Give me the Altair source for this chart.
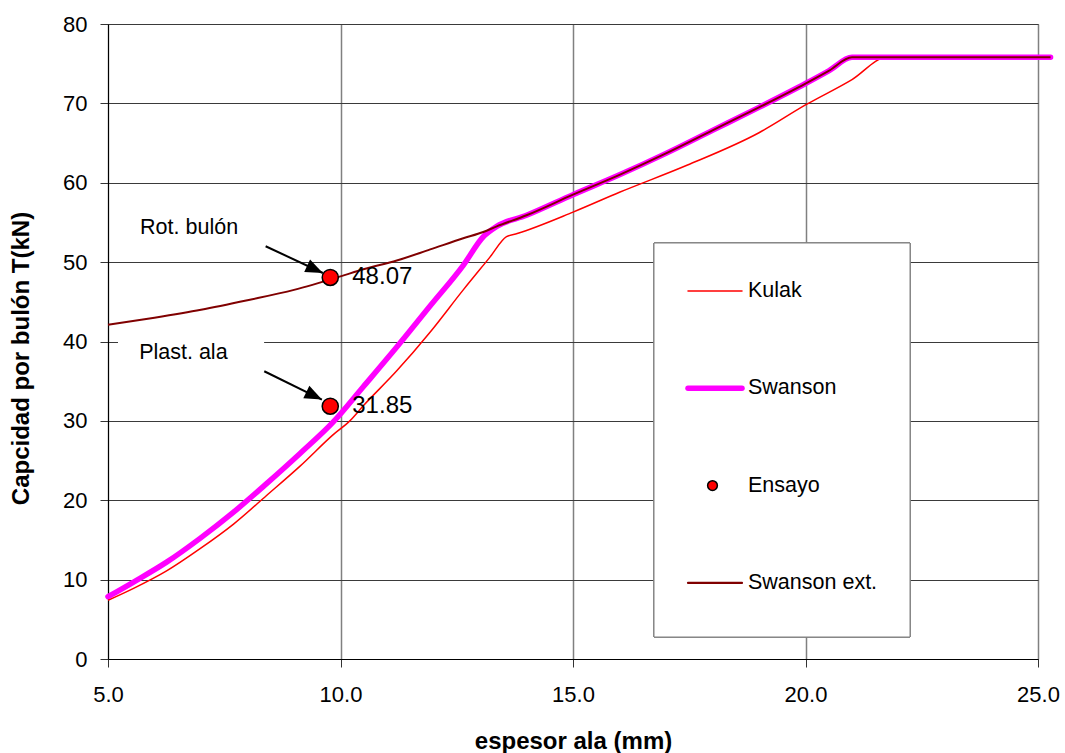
import altair as alt
import pandas as pd

# ---------------- data ----------------
kulak_x = [5.0, 5.55, 6.26, 6.98, 7.70, 8.41, 9.13, 9.85, 10.2, 10.49, 11.21, 11.93, 12.64,
           13.21, 13.57, 13.8, 15.0, 16.0, 17.45, 19.0, 20.0, 21.0, 21.75, 25.27]
kulak_y = [7.4, 8.9, 11.1, 13.9, 17.0, 20.6, 24.3, 28.3, 30.0, 31.9, 36.3, 41.2, 46.5,
           50.6, 53.2, 53.6, 56.3, 58.8, 62.2, 66.3, 69.8, 73.0, 75.8, 75.8]

swanson_x = [5.0, 5.55, 6.26, 6.98, 7.70, 8.41, 9.13, 9.85, 10.49, 11.21, 11.93, 12.64,
             13.07, 13.36, 14.0, 15.0, 16.0, 17.0, 18.0, 19.0, 20.0, 20.5, 21.0, 25.27]
swanson_y = [7.85, 9.7, 12.2, 15.2, 18.5, 22.1, 25.9, 29.9, 34.3, 39.3, 44.5, 49.6,
             53.2, 54.5, 55.9, 58.5, 61.0, 63.7, 66.6, 69.5, 72.5, 74.1, 75.8, 75.8]

ext_x = [5.0, 6.0, 7.0, 8.0, 9.0, 10.0, 10.49, 11.21, 11.93, 12.64, 13.07, 13.36,
         14.0, 15.0, 16.0, 17.0, 18.0, 19.0, 20.0, 20.5, 21.0, 25.27]
ext_y = [42.1, 43.0, 44.0, 45.2, 46.5, 48.2, 49.1, 50.2, 51.6, 53.0, 53.8, 54.5,
         55.9, 58.5, 61.0, 63.7, 66.6, 69.5, 72.5, 74.1, 75.8, 75.8]

ensayo_x = [9.78, 9.78]
ensayo_y = [48.07, 31.85]
ensayo_lbl = ["48.07", "31.85"]

note_text = ["Rot. bulón", "Plast. ala"]
note_x = [5.69, 5.67]
note_y = [53.6, 37.85]

arrow_x1 = [8.39, 8.36]
arrow_y1 = [52.0, 36.25]
arrow_x2 = [9.62, 9.60]
arrow_y2 = [48.63, 32.69]
arrow_ang = [25, 26]

box_x = [5.215]
box_x2 = [8.357]
box_y = [36.1]
box_y2 = [41.4]

legend_names = ["Kulak", "Swanson", "Ensayo", "Swanson ext."]
legend_cols = ["#FF0000", "#FF00FF", "#FF0000", "#800000"]
legend_w = [1.5, 5.5, 0, 2.2]

x_ticks = [5, 10, 15, 20, 25]
y_ticks = [0, 10, 20, 30, 40, 50, 60, 70, 80]

FONT = "Liberation Sans"

kulak = pd.DataFrame({"x": kulak_x, "y": kulak_y})
swanson = pd.DataFrame({"x": swanson_x, "y": swanson_y})
ext = pd.DataFrame({"x": ext_x, "y": ext_y})
ens = pd.DataFrame({"x": ensayo_x, "y": ensayo_y, "lbl": ensayo_lbl})
notes = pd.DataFrame({"x": note_x, "y": note_y, "t": note_text})
arrows = pd.DataFrame({"x": arrow_x1, "y": arrow_y1, "x2": arrow_x2, "y2": arrow_y2, "a": arrow_ang})
box = pd.DataFrame({"x": box_x, "x2": box_x2, "y": box_y, "y2": box_y2})
leg = pd.DataFrame({"name": legend_names, "c": legend_cols, "w": legend_w,
                    "i": list(range(len(legend_names)))})

xs = alt.Scale(domain=[5, 25], nice=False, zero=False)
ys = alt.Scale(domain=[0, 80], nice=False, zero=False)

x_axis = alt.Axis(
    values=x_ticks, format=".1f", title="espesor ala (mm)", labelFlush=False,
    titleFontSize=24, titleFontWeight="bold", titleY=89, titleBaseline="alphabetic",
    labelFontSize=22, labelPadding=17, tickSize=8, gridColor="#808080", gridWidth=1.5,
    domainColor="#000000", tickColor="#333333")
y_axis = alt.Axis(
    values=y_ticks, format="d", title="Capcidad por bulón T(kN)", labelFlush=False,
    titleFontSize=24, titleFontWeight="bold", titleX=-80, titleY=334,
    titleBaseline="alphabetic", titleAngle=270, titleAlign="center",
    labelFontSize=22, labelPadding=13, tickSize=8, gridColor="#3a3a3a", gridWidth=1.2,
    domainColor="#000000", tickColor="#333333")


def X(field="x"):
    return alt.X(f"{field}:Q", scale=xs, axis=x_axis)


def Y(field="y"):
    return alt.Y(f"{field}:Q", scale=ys, axis=y_axis)


l_kulak = alt.Chart(kulak).mark_line(color="#FF0000", strokeWidth=1.5,
                                     interpolate="monotone").encode(x=X(), y=Y())
l_swan = alt.Chart(swanson).mark_line(color="#FF00FF", strokeWidth=5.5, strokeCap="round",
                                      strokeJoin="round", interpolate="monotone").encode(x=X(), y=Y())
l_ext = alt.Chart(ext).mark_line(color="#800000", strokeWidth=2,
                                 interpolate="monotone").encode(x=X(), y=Y())

pts = alt.Chart(ens).mark_circle(color="#FF0000", stroke="black", strokeWidth=1.5,
                                  opacity=1, size=260).encode(x=X(), y=Y())
pts_lbl = alt.Chart(ens).mark_text(align="left", baseline="middle", dx=22, fontSize=24,
                                    font=FONT, color="black").encode(x=X(), y=Y(), text="lbl:N")

wbox = alt.Chart(box).mark_rect(fill="white").encode(
    x=X(), x2="x2:Q", y=Y(), y2="y2:Q")
note = alt.Chart(notes).mark_text(align="left", baseline="alphabetic", fontSize=21.5,
                                  font=FONT, color="black").encode(x=X(), y=Y(), text="t:N")
arr_line = alt.Chart(arrows).mark_rule(color="black", strokeWidth=2).encode(
    x=X(), y=Y(), x2="x2:Q", y2="y2:Q")
arr_head = alt.Chart(arrows).mark_point(shape="M0,0L-1,-0.4L-1,0.4Z", filled=True,
                                        color="black", opacity=1, size=1200).encode(
    x=X("x2"), y=Y("y2"), angle=alt.Angle("a:Q", scale=None))

# legend (pixel layout inside the plot area)
leg_box = alt.Chart(leg).mark_rect(fill="white", stroke="#808080", strokeWidth=1).encode(
    x=alt.value(546), x2=alt.value(802), y=alt.value(219), y2=alt.value(613))
leg_base = alt.Chart(leg).transform_calculate(ly="267 + datum.i * 97.3")
leg_lines = leg_base.transform_filter("datum.w > 0").mark_rule(strokeCap="round").encode(
    x=alt.value(580), x2=alt.value(634), y=alt.Y("ly:Q", scale=None),
    color=alt.Color("c:N", scale=None), strokeWidth=alt.StrokeWidth("w:Q", scale=None))
leg_dot = leg_base.transform_filter("datum.w == 0").mark_circle(
    stroke="black", strokeWidth=1.5, opacity=1, size=95).encode(
    x=alt.value(604.5), y=alt.Y("ly:Q", scale=None), color=alt.Color("c:N", scale=None))
leg_text = leg_base.mark_text(align="left", baseline="middle", fontSize=21.5, font=FONT,
                              color="black").encode(
    x=alt.value(640), y=alt.Y("ly:Q", scale=None), text="name:N")

chart = alt.layer(
    l_kulak, wbox, l_swan, l_ext, arr_line, arr_head, pts, pts_lbl, note,
    leg_box, leg_lines, leg_dot, leg_text
).properties(
    width=930, height=635,
    padding={"left": 108, "top": 24, "right": 27, "bottom": 94},
    autosize=alt.AutoSizeParams(type="none"),
    background="white",
).configure_view(
    stroke="#666666", strokeWidth=1
).configure_axis(
    labelFont=FONT, titleFont=FONT, labelColor="black", titleColor="black", grid=True
)

chart.save("out.html", embed_options={"renderer": "svg", "actions": False})
